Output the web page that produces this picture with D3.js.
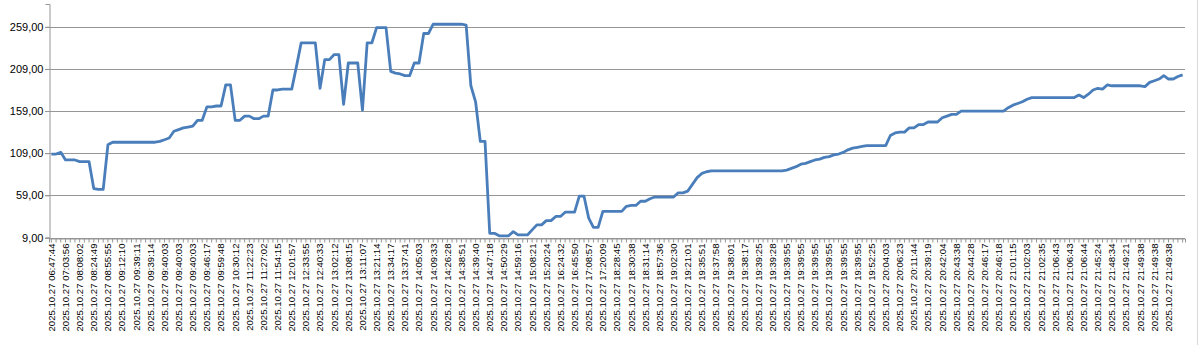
<!DOCTYPE html>
<html>
<head>
<meta charset="utf-8">
<script src="https://cdn.jsdelivr.net/npm/d3@7"></script>
<style>
  body { margin: 0; background: #fff; }
  svg { display: block; font-family: "Liberation Sans", Arial, sans-serif; }
</style>
</head>
<body>
<div id="chart"></div>
<script>
// values, one per category
const values = [
  108, 108, 110, 101, 101, 101, 99, 99, 99, 67,
  66, 66, 119, 122, 122, 122, 122, 122, 122, 122,
  122, 122, 122, 123, 125, 127, 135, 137, 139, 140,
  141, 148, 148, 164, 164, 165, 165, 190, 190, 148,
  148, 153, 153, 150, 150, 153, 153, 184, 184, 185,
  185, 185, 212, 240, 240, 240, 240, 186, 220, 220,
  226, 226, 167, 216, 216, 216, 160, 240, 240, 258,
  258, 258, 206, 204, 203, 201, 201, 216, 216, 251,
  251, 262, 262, 262, 262, 262, 262, 262, 261, 189,
  170, 123, 123, 14, 14, 11, 11, 11, 16, 12,
  12, 12, 18, 24, 24, 29, 29, 34, 34, 39,
  39, 39, 58, 58, 32, 21, 21, 40, 40, 40,
  40, 40, 46, 47, 47, 52, 52, 55, 57, 57,
  57, 57, 57, 62, 62, 64, 72, 80, 85, 87,
  88, 88, 88, 88, 88, 88, 88, 88, 88, 88,
  88, 88, 88, 88, 88, 88, 89, 91, 93, 96,
  97, 99, 101, 102, 104, 105, 107, 108, 110, 113,
  115, 116, 117, 118, 118, 118, 118, 118, 130, 133,
  134, 134, 139, 139, 143, 143, 146, 146, 146, 151,
  153, 155, 155, 159, 159, 159, 159, 159, 159, 159,
  159, 159, 159, 163, 166, 168, 170, 173, 175, 175,
  175, 175, 175, 175, 175, 175, 175, 175, 178, 175,
  179, 184, 186, 185, 190, 189, 189, 189, 189, 189,
  189, 189, 188, 193, 195, 197, 201, 197, 197, 200,
  202
];

// tick labels, shown on every third category
const tickLabels = [
  "06:47:44", "07:03:56", "08:08:02", "08:24:49", "08:55:55", "09:12:10", "09:39:11", "09:39:14",
  "09:40:03", "09:40:03", "09:40:03", "09:46:17", "09:59:48", "10:30:12", "11:22:23", "11:27:02",
  "11:54:15", "12:01:57", "12:33:55", "12:40:33", "13:02:12", "13:08:15", "13:11:07", "13:21:14",
  "13:34:17", "13:37:41", "14:05:03", "14:09:33", "14:26:28", "14:38:51", "14:39:40", "14:47:18",
  "14:50:29", "14:59:16", "15:08:21", "15:20:24", "16:24:32", "16:45:50", "17:08:57", "17:20:09",
  "18:28:45", "18:30:38", "18:31:14", "18:57:36", "19:02:30", "19:21:01", "19:35:51", "19:37:58",
  "19:38:01", "19:38:17", "19:39:25", "19:39:28", "19:39:55", "19:39:55", "19:39:55", "19:39:55",
  "19:39:55", "19:39:55", "19:52:25", "20:04:03", "20:06:23", "20:11:44", "20:39:19", "20:42:04",
  "20:43:38", "20:44:28", "20:46:17", "20:46:18", "21:01:15", "21:02:03", "21:02:35", "21:06:43",
  "21:06:43", "21:06:44", "21:45:24", "21:48:34", "21:49:21", "21:49:38", "21:49:38", "21:49:38"
].map(t => "2025.10.27 " + t);
const labelStep = 3;

const yTicks = [9, 59, 109, 159, 209, 259];

const width = 1200, height = 357;
const margin = {top: 4, right: 15, bottom: 120, left: 49};

const svg = d3.select("#chart")
  .append("svg")
  .attr("width", width)
  .attr("height", height);

// chart area border on the right
svg.append("line")
  .attr("x1", 1197.5).attr("x2", 1197.5)
  .attr("y1", 0).attr("y2", 345)
  .attr("stroke", "#d9d9d9");

const x = d3.scaleBand()
  .domain(d3.range(values.length))
  .range([margin.left, width - margin.right])
  .padding(0);

const y = d3.scaleLinear()
  .domain([9, 286])
  .range([height - margin.bottom + 0.5, margin.top]);

// gridlines
svg.append("g")
  .selectAll("line")
  .data(yTicks)
  .enter()
  .append("line")
  .attr("x1", margin.left - 4)
  .attr("x2", width - margin.right)
  .attr("y1", d => Math.round(y(d)) + 0.5)
  .attr("y2", d => Math.round(y(d)) + 0.5)
  .attr("stroke", "#969696")
  .attr("stroke-width", 1);

// Y axis
const yAxis = svg.append("g")
  .attr("transform", "translate(" + (margin.left + 0.5) + ",0)")
  .call(d3.axisLeft(y).tickValues(yTicks).tickSize(4)
    .tickFormat(d => d3.format(".2f")(d).replace(".", ",")));
yAxis.select(".domain").attr("stroke", "#969696");
yAxis.selectAll(".tick line").attr("stroke", "#969696");
yAxis.selectAll("text")
  .attr("fill", "#000")
  .style("font-size", "11px")
  .attr("x", -6);

// X axis
const xAxis = svg.append("g")
  .attr("transform", "translate(0," + (Math.round(y(9)) + 0.5) + ")")
  .call(d3.axisBottom(x).tickSize(4)
    .tickFormat(i => i % labelStep === 0 ? (tickLabels[i / labelStep] || "") : ""));
xAxis.select(".domain").attr("stroke", "#969696");
xAxis.selectAll(".tick line").attr("stroke", "#969696");
xAxis.selectAll("text")
  .attr("fill", "#000")
  .style("font-size", "9.6px")
  .attr("text-anchor", "end")
  .attr("transform", "rotate(-90)")
  .attr("x", -5)
  .attr("y", 0)
  .attr("dy", "0.35em");

// line
const line = d3.line()
  .x((d, i) => x(i) + x.bandwidth() / 2)
  .y(d => y(d));

svg.append("path")
  .datum(values)
  .attr("fill", "none")
  .attr("stroke", "#4a7ebb")
  .attr("stroke-width", 2.8)
  .attr("stroke-linejoin", "round")
  .attr("d", line);
</script>
</body>
</html>
